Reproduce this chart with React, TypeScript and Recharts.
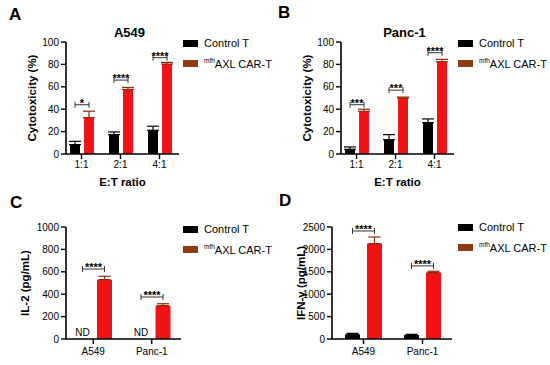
import { BarChart, Bar, XAxis, YAxis, ErrorBar, LabelList, Legend } from "recharts";

const FONT = "'Liberation Sans', Arial, sans-serif";
const BLACK = "#000000";
const RED = "#f01414";
const BROWN = "#8c3a10";

const ratios = ["1:1", "2:1", "4:1"];
const cellLines = ["A549", "Panc-1"];
const seriesNames = ["Control T", "AXL CAR-T"];
const carPrefix = "mfh";

// A: cytotoxicity on A549
const a549Control = [8.4, 17.3, 21.2];
const a549ControlSd = [2.9, 2.4, 3.6];
const a549Car = [32.5, 57.6, 80.3];
const a549CarSd = [5.7, 1.8, 1.5];
const a549Bracket = [44, 66, 86];
const a549Stars = ["*", "****", "****"];

// B: cytotoxicity on Panc-1
const pancControl = [4.2, 12.8, 28];
const pancControlSd = [2.1, 4.5, 3.3];
const pancCar = [38.2, 50, 82.4];
const pancCarSd = [1.8, 0.8, 2.1];
const pancBracket = [44, 57, 90.4];
const pancStars = ["***", "***", "****"];

// C: IL-2 (control not detected)
const il2Control = [0, 0];
const il2ControlSd = [0, 0];
const il2Car = [530, 298];
const il2CarSd = [30, 17];
const il2Bracket = [625, 375];
const il2Stars = ["****", "****"];

// D: IFN-γ
const ifnControl = [104, 89];
const ifnControlSd = [22, 15];
const ifnCar = [2129, 1484];
const ifnCarSd = [148, 29];
const ifnBracket = [2411, 1632];
const ifnStars = ["****", "****"];

const pctTicks = [0, 20, 40, 60, 80, 100];
const il2Ticks = [0, 200, 400, 600, 800, 1000];
const ifnTicks = [0, 500, 1000, 1500, 2000, 2500];

// draws the significance bracket (and ND mark) from the CAR-T bar's geometry
function bracketLabel(levels: number[], stars: string[], gapPx: number, nd: boolean) {
  return (props: any) => {
    const vb = props.viewBox ?? props;
    const { x, y, width, height } = vb;
    const value = Number(props.value);
    const i = props.index ?? 0;
    if (!value || !height) return null;
    const bottom = y + height;
    const yb = bottom - levels[i] * (height / value);
    const x2 = x + width / 2;
    const x1 = x2 - width - gapPx;
    return (
      <g>
        <path
          d={`M${x1},${yb - 3}V${yb + 3}M${x1},${yb}H${x2}M${x2},${yb - 3}V${yb + 3}`}
          stroke="#333"
          strokeWidth={1}
          fill="none"
        />
        <text
          x={(x1 + x2) / 2}
          y={yb + 2}
          textAnchor="middle"
          fontSize={11}
          fontWeight={700}
          fontFamily={FONT}
          fill="#000"
        >
          {stars[i]}
        </text>
        {nd && (
          <text x={x1} y={bottom - 3} textAnchor="middle" fontSize={10} fontFamily={FONT} fill="#000">
            ND
          </text>
        )}
      </g>
    );
  };
}

function LegendBox() {
  const colors = [BLACK, BROWN];
  return (
    <div style={{ fontFamily: FONT, fontSize: 11, color: "#000" }}>
      {seriesNames.map((n, i) => (
        <div key={n} style={{ display: "flex", alignItems: "center", height: 20, whiteSpace: "nowrap" }}>
          <span style={{ display: "inline-block", width: 15, height: 7, background: colors[i], marginRight: 6 }} />
          {i === 1 ? (
            <span>
              <sup style={{ fontSize: 6.5 }}>{carPrefix}</sup>
              {n}
            </span>
          ) : (
            n
          )}
        </div>
      ))}
    </div>
  );
}

type PanelProps = {
  left: number;
  top: number;
  height: number;
  cats: string[];
  control: number[];
  controlSd: number[];
  car: number[];
  carSd: number[];
  bracket: number[];
  stars: string[];
  nd?: boolean;
  yTicks: number[];
  yLabel: string;
  yLabelDx: number;
  xLabel?: string;
  title?: string;
  letter: string;
  letterX: number;
  letterY: number;
  marginTop: number;
  marginRight: number;
  yWidth: number;
  xHeight: number;
  padLeft: number;
  barSize: number;
  barGap: number;
  tickMargin: number;
  legendTop: number;
};

function Panel(p: PanelProps) {
  const data = p.cats.map((c, i) => ({
    cat: c,
    control: p.control[i],
    controlErr: [0, p.controlSd[i]],
    car: p.car[i],
    carErr: [0, p.carSd[i]],
  }));
  const tick = { fill: "#000", fontSize: 10, fontFamily: FONT };
  const axisLine = { stroke: "#000", strokeWidth: 1.6 };
  const tickLine = { stroke: "#000", strokeWidth: 1.4 };
  const plotRight = 275 - p.marginRight;
  return (
    <div style={{ position: "absolute", left: p.left, top: p.top, width: 275, height: p.height }}>
      <div
        style={{
          position: "absolute",
          left: p.letterX,
          top: p.letterY,
          fontFamily: FONT,
          fontWeight: 700,
          fontSize: 17,
          lineHeight: "17px",
        }}
      >
        {p.letter}
      </div>
      {p.title && (
        <div
          style={{
            position: "absolute",
            left: p.yWidth,
            width: plotRight - p.yWidth + 14,
            top: 25,
            textAlign: "center",
            fontFamily: FONT,
            fontWeight: 700,
            fontSize: 13,
          }}
        >
          {p.title}
        </div>
      )}
      <BarChart
        width={275}
        height={p.height}
        data={data}
        margin={{ top: p.marginTop, right: p.marginRight, bottom: 0, left: 0 }}
        barSize={p.barSize}
        barGap={p.barGap}
      >
        <XAxis
          dataKey="cat"
          height={p.xHeight}
          padding={{ left: p.padLeft, right: 0 }}
          tick={tick}
          axisLine={axisLine}
          tickLine={tickLine}
          tickSize={5}
          tickMargin={p.tickMargin}
          interval={0}
          label={
            p.xLabel
              ? { value: p.xLabel, position: "insideBottom", offset: 6, fontSize: 11.5, fontWeight: 700, fill: "#000", fontFamily: FONT }
              : undefined
          }
        />
        <YAxis
          width={p.yWidth}
          domain={[0, p.yTicks[p.yTicks.length - 1]]}
          ticks={p.yTicks}
          interval={0}
          tick={tick}
          axisLine={axisLine}
          tickLine={tickLine}
          tickSize={5}
          tickMargin={2}
          label={{
            value: p.yLabel,
            angle: -90,
            position: "center",
            dx: p.yLabelDx,
            fontSize: 11.5,
            fontWeight: 700,
            fill: "#000",
            fontFamily: FONT,
          }}
        />
        <Legend
          layout="horizontal"
          align="center"
          verticalAlign="middle"
          wrapperStyle={{ left: 183, top: p.legendTop, width: 92, height: 40 }}
          content={() => <LegendBox />}
        />
        <Bar dataKey="control" name={seriesNames[0]} fill={BLACK} isAnimationActive={false}>
          <ErrorBar dataKey="controlErr" width={6} stroke="#000" strokeWidth={1.2} direction="y" />
        </Bar>
        <Bar dataKey="car" name={seriesNames[1]} fill={RED} isAnimationActive={false}>
          <ErrorBar dataKey="carErr" width={6} stroke="#8a2a0c" strokeWidth={1.2} direction="y" />
          <LabelList dataKey="car" content={bracketLabel(p.bracket, p.stars, p.barGap, !!p.nd)} />
        </Bar>
      </BarChart>
    </div>
  );
}

export default function App() {
  return (
    <div style={{ position: "absolute", left: 0, top: 0, width: 550, height: 365, background: "#fff", fontFamily: FONT, overflow: "hidden" }}>
      <Panel
        left={0} top={180} height={185} cats={cellLines}
        control={il2Control} controlSd={il2ControlSd} car={il2Car} carSd={il2CarSd}
        bracket={il2Bracket} stars={il2Stars} nd
        yTicks={il2Ticks} yLabel="IL-2 (pg/mL)" yLabelDx={-8}
        letter="C" letterX={10} letterY={14}
        marginTop={47} marginRight={94} yWidth={66} xHeight={26} padLeft={-2}
        barSize={15} barGap={7} tickMargin={4} legendTop={39}
      />
      <Panel
        left={275} top={180} height={185} cats={cellLines}
        control={ifnControl} controlSd={ifnControlSd} car={ifnCar} carSd={ifnCarSd}
        bracket={ifnBracket} stars={ifnStars}
        yTicks={ifnTicks} yLabel="IFN-γ (pg/mL)" yLabelDx={-3}
        letter="D" letterX={4} letterY={12}
        marginTop={47} marginRight={98} yWidth={57} xHeight={26} padLeft={2}
        barSize={15} barGap={7} tickMargin={4} legendTop={37}
      />
      <Panel
        left={0} top={0} height={192} cats={ratios}
        control={a549Control} controlSd={a549ControlSd} car={a549Car} carSd={a549CarSd}
        bracket={a549Bracket} stars={a549Stars}
        yTicks={pctTicks} yLabel="Cytotoxicity (%)" yLabelDx={-1} xLabel="E:T ratio" title="A549"
        letter="A" letterX={9} letterY={6}
        marginTop={42} marginRight={96} yWidth={66} xHeight={38} padLeft={-4}
        barSize={10} barGap={4} tickMargin={2} legendTop={33}
      />
      <Panel
        left={275} top={0} height={192} cats={ratios}
        control={pancControl} controlSd={pancControlSd} car={pancCar} carSd={pancCarSd}
        bracket={pancBracket} stars={pancStars}
        yTicks={pctTicks} yLabel="Cytotoxicity (%)" yLabelDx={-1} xLabel="E:T ratio" title="Panc-1"
        letter="B" letterX={3} letterY={4}
        marginTop={42} marginRight={96} yWidth={66} xHeight={38} padLeft={-4}
        barSize={10} barGap={4} tickMargin={2} legendTop={33}
      />
    </div>
  );
}
